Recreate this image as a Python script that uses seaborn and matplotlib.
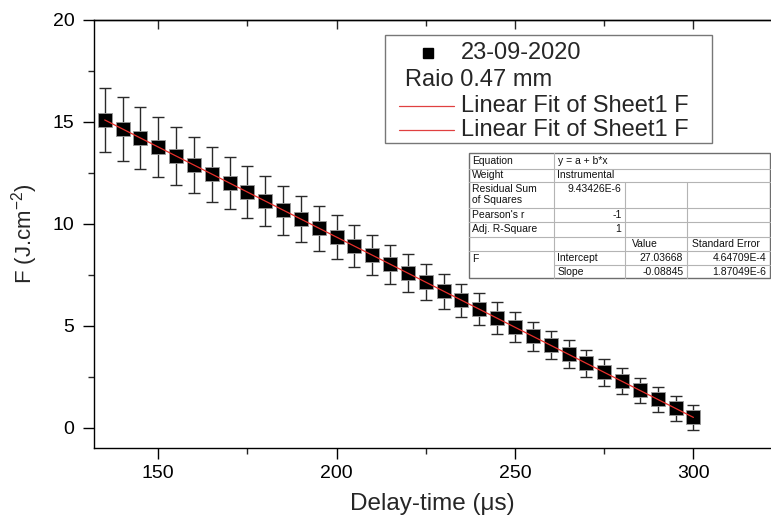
import numpy as np
import pandas as pd
import matplotlib
matplotlib.use("Agg")
import matplotlib.pyplot as plt
import seaborn as sns
from matplotlib.lines import Line2D
from matplotlib.patches import Rectangle

# Measured fluence vs. delay time
delay_time = [135, 140, 145, 150, 155, 160, 165, 170, 175, 180, 185, 190,
              195, 200, 205, 210, 215, 220, 225, 230, 235, 240, 245, 250,
              255, 260, 265, 270, 275, 280, 285, 290, 295, 300]
fluence = [15.10, 14.65, 14.21, 13.77, 13.33, 12.88, 12.44, 12.00, 11.56,
           11.12, 10.67, 10.23, 9.79, 9.35, 8.90, 8.46, 8.02, 7.58, 7.14,
           6.69, 6.25, 5.81, 5.37, 4.92, 4.48, 4.04, 3.60, 3.16, 2.71,
           2.27, 1.83, 1.39, 0.94, 0.50]
fluence_err = [1.57, 1.55, 1.51, 1.45, 1.41, 1.39, 1.35, 1.29, 1.26, 1.23,
               1.20, 1.13, 1.10, 1.07, 1.02, 0.97, 0.96, 0.92, 0.88, 0.86,
               0.82, 0.79, 0.77, 0.73, 0.70, 0.68, 0.68, 0.66, 0.65, 0.64,
               0.62, 0.62, 0.61, 0.62]

# Linear fit results
intercept = 27.03668
slope = -0.08845

x_ticks = [150, 200, 250, 300]
x_minor = [175, 225, 275]
y_ticks = [0, 5, 10, 15, 20]
y_minor = [2.5, 7.5, 12.5, 17.5]

sns.set_style("ticks")
plt.rcParams["font.family"] = ["Liberation Sans", "DejaVu Sans"]
plt.rcParams["mathtext.fontset"] = "custom"
plt.rcParams["mathtext.rm"] = "Liberation Sans"
plt.rcParams["mathtext.it"] = "Liberation Sans"

W, H = 771, 519
fig = plt.figure(figsize=(W / 100, H / 100), dpi=100)
fig.patch.set_facecolor("white")


def fx(px):
    return px / W


def fy(py):
    return 1 - py / H


ax = fig.add_axes([fx(94), fy(448), fx(771) - fx(94), fy(20) - fy(448)])
ax.set_facecolor("white")

df = pd.DataFrame({"t": delay_time, "F": fluence, "err": fluence_err})
fit = pd.DataFrame({"t": [delay_time[0], delay_time[-1]]})
fit["F"] = intercept + slope * fit["t"]

ax.errorbar(df["t"], df["F"], yerr=df["err"], fmt="none", ecolor="#2a2a2a",
            elinewidth=1.0, capsize=4.0, capthick=1.0, zorder=2)
sns.scatterplot(data=df, x="t", y="F", marker="s", s=100, color="black",
                edgecolor="#9a9a9a", linewidth=0.6, ax=ax, zorder=3,
                legend=False)
sns.lineplot(data=fit, x="t", y="F", color="#e8302c", lw=0.9, ax=ax,
             zorder=4, legend=False)

ax.set_xticks(x_ticks)
ax.set_yticks(y_ticks)
ax.set_xticks(x_minor, minor=True)
ax.set_yticks(y_minor, minor=True)
ax.set_xlim(132, 321.75)
ax.set_ylim(-1, 20)
ax.tick_params(axis="both", which="major", direction="out", length=8,
               width=1.0, labelsize=14, colors="black", pad=6)
ax.tick_params(axis="both", which="minor", direction="out", length=4.5,
               width=1.0)
ax.tick_params(axis="x", which="major", pad=4)

for side in ["left", "bottom", "top"]:
    ax.spines[side].set_color("black")
    ax.spines[side].set_linewidth(1.0)
ax.spines["right"].set_visible(False)

top = ax.secondary_xaxis("top")
top.set_xticks(x_ticks)
top.set_xticks(x_minor, minor=True)
top.tick_params(which="major", direction="in", length=6.5, width=1.0,
                labeltop=False)
top.tick_params(which="minor", direction="in", length=4, width=1.0)
top.spines["top"].set_linewidth(1.0)
ax.set_xlim(132, 321.75)

ax.set_xlabel("Delay-time (μs)", fontsize=17.5, labelpad=8.5)
ax.set_ylabel("F (J.cm$^{-2}$)", fontsize=16, labelpad=9)

# Legend box
fig.add_artist(Rectangle((fx(385), fy(143)), fx(711.5) - fx(385),
                         fy(35) - fy(143), transform=fig.transFigure,
                         facecolor="white", edgecolor="#777777", lw=1.0,
                         zorder=10))
fig.add_artist(Line2D([fx(428)], [fy(52.7)], marker="s", markersize=7.5,
                      color="black", transform=fig.transFigure, zorder=11))
fig.text(fx(461), fy(52.7), "23-09-2020", fontsize=17, va="center",
         ha="left", zorder=11)
fig.text(fx(405), fy(80), "Raio 0.47 mm", fontsize=17, va="center",
         ha="left", zorder=11)
for yy in (106, 130):
    fig.add_artist(Line2D([fx(399), fx(454)], [fy(yy), fy(yy)],
                          color="#e04040", lw=0.9,
                          transform=fig.transFigure, zorder=11))
    fig.text(fx(461), fy(yy), "Linear Fit of Sheet1 F", fontsize=17,
             va="center", ha="left", zorder=11)

# Fit parameter table
c = [469, 554.3, 625, 686.7, 770]
r = [153.3, 169, 181.7, 208.3, 221.7, 236.7, 250.7, 265, 278.3]
fig.add_artist(Rectangle((fx(c[0]), fy(r[8])), fx(c[4]) - fx(c[0]),
                         fy(r[0]) - fy(r[8]), transform=fig.transFigure,
                         facecolor="white", edgecolor="#6e6e6e", lw=1.0,
                         zorder=10))
grid = "#b4b4b4"


def hline(y, x0, x1):
    fig.add_artist(Line2D([fx(x0), fx(x1)], [fy(y), fy(y)], color=grid,
                          lw=0.8, transform=fig.transFigure, zorder=11))


def vline(x, y0, y1):
    fig.add_artist(Line2D([fx(x), fx(x)], [fy(y0), fy(y1)], color=grid,
                          lw=0.8, transform=fig.transFigure, zorder=11))


for y in r[1:7]:
    hline(y, c[0], c[4])
hline(r[7], c[1], c[4])
vline(c[1], r[0], r[8])
vline(c[2], r[2], r[8])
vline(c[3], r[2], r[8])

tfs = 7.5


def cell(x, y, s, ha="left", va="center"):
    fig.text(fx(x), fy(y), s, fontsize=tfs, ha=ha, va=va, zorder=12,
             color="#111111")


cell(472, 161.3, "Equation")
cell(557.5, 161.3, "y = a + b*x")
cell(472, 175.4, "Weight")
cell(557.5, 175.4, "Instrumental")
cell(472, 189.5, "Residual Sum")
cell(472, 199.5, "of Squares")
cell(621.5, 188.5, "9.43426E-6", ha="right")
cell(472, 215, "Pearson's r")
cell(621.5, 215, "-1", ha="right")
cell(472, 229.2, "Adj. R-Square")
cell(621.5, 229.2, "1", ha="right")
cell(631.5, 243.7, "Value")
cell(691.5, 243.7, "Standard Error")
cell(472, 258.5, "F")
cell(557.5, 257.8, "Intercept")
cell(683.3, 257.8, f"{intercept:.5f}", ha="right")
cell(766.5, 257.8, "4.64709E-4", ha="right")
cell(557.5, 271.6, "Slope")
cell(683.3, 271.6, f"{slope:.5f}", ha="right")
cell(766.5, 271.6, "1.87049E-6", ha="right")

fig.savefig("out.png", dpi=100, facecolor="white")
